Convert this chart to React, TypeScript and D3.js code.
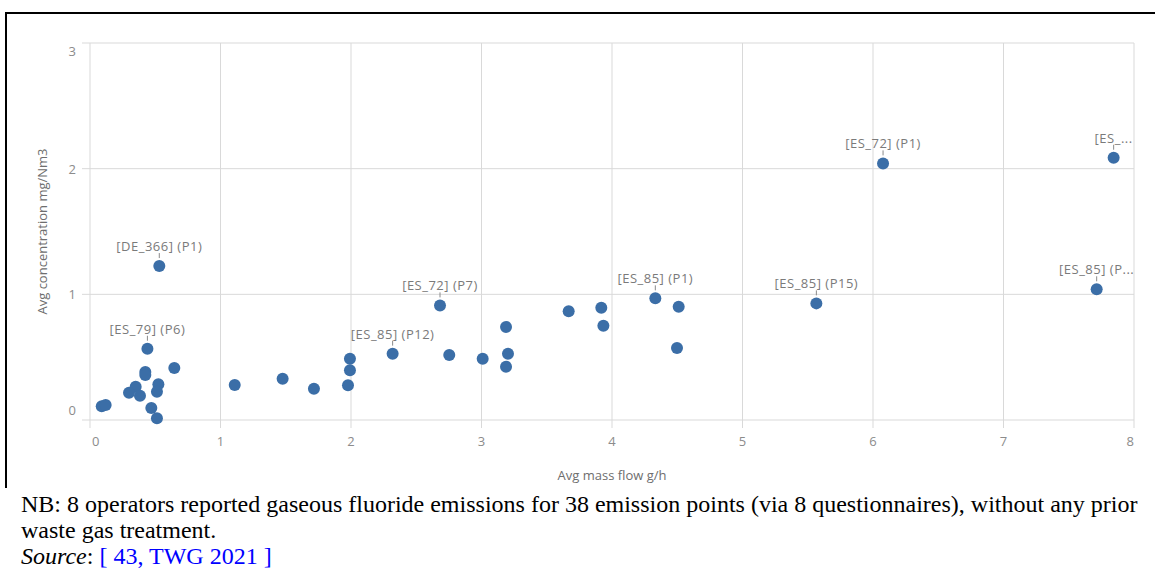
import React from "react";
import * as d3 from "d3";

const massFlow = [0.09, 0.12, 0.44, 0.424, 0.424, 0.646, 0.35, 0.299, 0.383, 0.524, 0.513, 0.47, 0.513, 0.531, 1.109, 1.476, 1.716, 1.977, 1.992, 1.992, 2.319, 2.682, 2.753, 3.009, 3.188, 3.203, 3.188, 3.668, 3.918, 3.934, 4.332, 4.511, 4.498, 6.077, 7.844, 5.566, 7.714];
const concentration = [0.11, 0.12, 0.567, 0.382, 0.358, 0.414, 0.265, 0.217, 0.193, 0.284, 0.225, 0.095, 0.013, 1.225, 0.278, 0.329, 0.249, 0.276, 0.395, 0.488, 0.528, 0.912, 0.517, 0.488, 0.74, 0.528, 0.424, 0.865, 0.894, 0.75, 0.968, 0.902, 0.573, 2.042, 2.087, 0.928, 1.04];
const pointLabels = ["", "", "[ES_79] (P6)", "", "", "", "", "", "", "", "", "", "", "[DE_366] (P1)", "", "", "", "", "", "", "[ES_85] (P12)", "[ES_72] (P7)", "", "", "", "", "", "", "", "", "[ES_85] (P1)", "", "", "[ES_72] (P1)", "[ES_...", "[ES_85] (P15)", "[ES_85] (P..."];
const xTicks = [0, 1, 2, 3, 4, 5, 6, 7, 8];
const yTicks = [0, 1, 2, 3];
const xTitle = "Avg mass flow g/h";
const yTitle = "Avg concentration mg/Nm3";
const noteLine1 = "NB: 8 operators reported gaseous fluoride emissions for 38 emission points (via 8 questionnaires), without any prior";
const noteLine2 = "waste gas treatment.";
const sourceRef = "[ 43, TWG 2021 ]";

export default function App() {
  const x = d3.scaleLinear().domain([0, 8]).range([90, 1134]);
  const y = d3.scaleLinear().domain([0, 3]).range([420, 43]);
  const grid = "#d9d9d9";
  const tickColor = "#8c8c8c";
  const font = "'Open Sans', sans-serif";
  const serif = "'Liberation Serif', 'Times New Roman', serif";
  const pts = massFlow.map((m, i) => ({ m, c: concentration[i], label: pointLabels[i] }));
  return (
    <svg width={1155} height={570} style={{ position: "absolute", left: 0, top: 0, background: "#fff" }}>
      <rect x={0} y={0} width={1155} height={570} fill="#fff" />
      {/* frame */}
      <line x1={5} x2={1155} y1={13} y2={13} stroke="#000" strokeWidth={2} />
      <line x1={6} x2={6} y1={12} y2={488} stroke="#000" strokeWidth={2} />
      {/* grid */}
      {xTicks.map((t) => (
        <line key={"gx" + t} x1={x(t)} x2={x(t)} y1={y(3)} y2={y(0) + 8} stroke={grid} strokeWidth={1} />
      ))}
      {yTicks.map((t) => (
        <line key={"gy" + t} x1={x(0) - 8} x2={x(8)} y1={y(t)} y2={y(t)} stroke={grid} strokeWidth={1} />
      ))}
      {/* x tick labels */}
      {xTicks.map((t, i) => (
        <text
          key={"xt" + t}
          x={i === 0 ? x(t) + 2 : x(t)}
          y={446}
          textAnchor={i === 0 ? "start" : i === xTicks.length - 1 ? "end" : "middle"}
          fontFamily={font}
          fontSize={13}
          fill={tickColor}
        >
          {t}
        </text>
      ))}
      {/* y tick labels */}
      {yTicks.map((t, i) => (
        <text
          key={"yt" + t}
          x={76}
          y={i === 0 ? y(t) - 5 : i === yTicks.length - 1 ? y(t) + 13 : y(t) + 5}
          textAnchor="end"
          fontFamily={font}
          fontSize={13}
          fill={tickColor}
        >
          {t}
        </text>
      ))}
      {/* axis titles */}
      <text x={612} y={480} textAnchor="middle" fontFamily={font} fontSize={13} fill="#6e6e6e">
        {xTitle}
      </text>
      <text
        transform={`translate(47, ${(y(0) + y(3)) / 2}) rotate(-90)`}
        textAnchor="middle"
        fontFamily={font}
        fontSize={13}
        fill="#6e6e6e"
      >
        {yTitle}
      </text>
      {/* points */}
      {pts.map((p, i) => (
        <circle key={"p" + i} cx={x(p.m)} cy={y(p.c)} r={6} fill="#3b6ea7" />
      ))}
      {/* labels */}
      {pts.filter((p) => p.label).map((p, i) => (
        <g key={"l" + i}>
          <line x1={x(p.m)} x2={x(p.m)} y1={y(p.c) - 13} y2={y(p.c) - 8} stroke="#8a8a8a" strokeWidth={1} />
          <text x={x(p.m)} y={y(p.c) - 15} textAnchor="middle" fontFamily={font} fontSize={13} letterSpacing={0.5} fill="#7a7a7a">
            {p.label}
          </text>
        </g>
      ))}
      {/* note */}
      <text x={21} y={512} fontFamily={serif} fontSize={24} fill="#000">
        {noteLine1}
      </text>
      <text x={21} y={538} fontFamily={serif} fontSize={24} fill="#000">
        {noteLine2}
      </text>
      <text x={21} y={564} fontFamily={serif} fontSize={24} fill="#000">
        <tspan fontStyle="italic">Source</tspan>
        <tspan>: </tspan>
        <tspan fill="#0000ff">{sourceRef}</tspan>
      </text>
    </svg>
  );
}
